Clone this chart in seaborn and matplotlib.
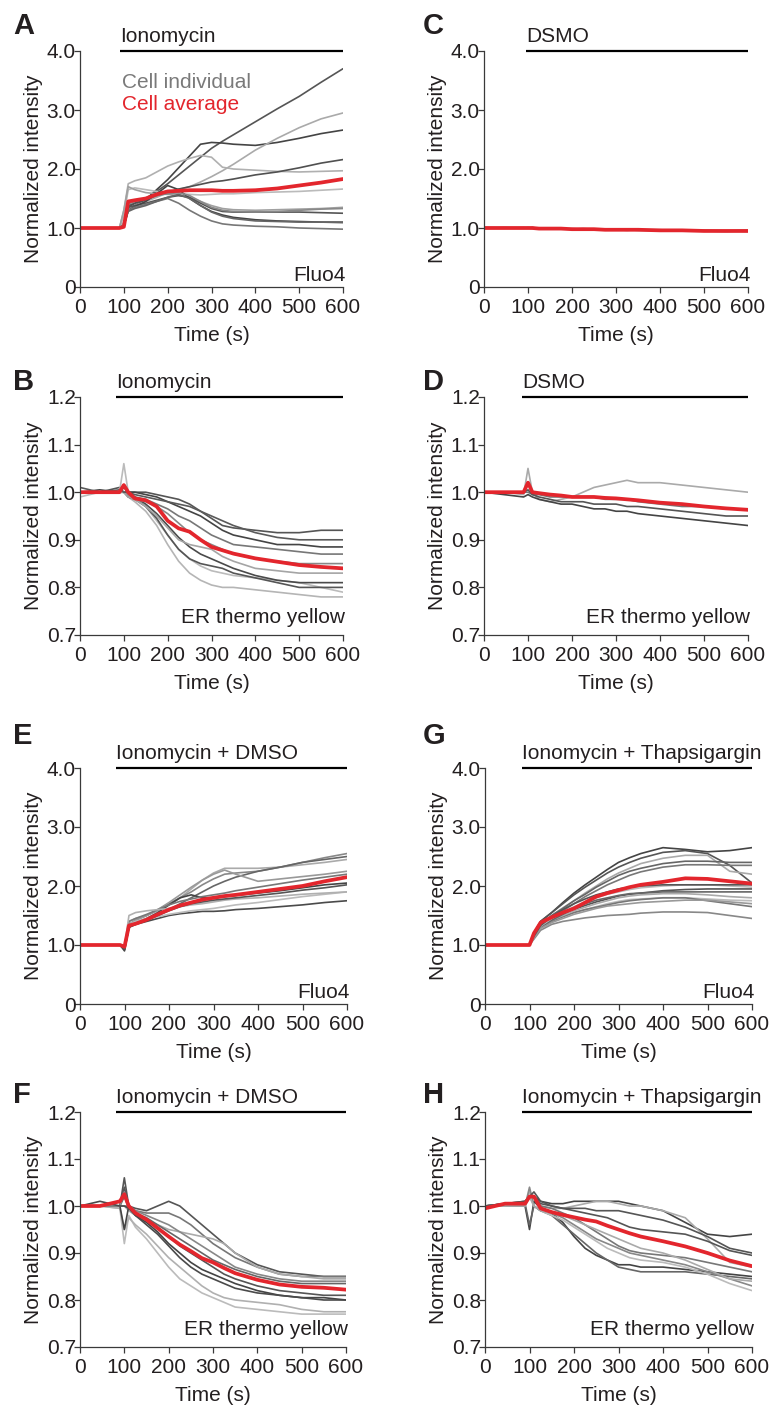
import pandas as pd
import seaborn as sns
import matplotlib.pyplot as plt

# sample times (s) shared by every trace
TIME = [0, 45, 90, 100, 110, 125, 150, 175, 200, 225, 250, 275, 300, 325, 350, 400, 450, 500, 550, 600]

# ---- A : Fluo4, ionomycin
A_cells = [
    [1.0, 1.0, 1.0, 1.02, 1.35, 1.42, 1.5, 1.62, 1.75, 1.9, 2.05, 2.2, 2.35, 2.47, 2.58, 2.8, 3.02, 3.23, 3.47, 3.70],
    [1.0, 1.0, 1.0, 1.05, 1.3, 1.38, 1.48, 1.65, 1.82, 2.02, 2.22, 2.42, 2.45, 2.44, 2.42, 2.40, 2.45, 2.52, 2.6, 2.66],
    [1.0, 1.0, 1.0, 1.1, 1.3, 1.38, 1.45, 1.52, 1.6, 1.65, 1.7, 1.78, 1.87, 1.97, 2.08, 2.32, 2.52, 2.7, 2.85, 2.95],
    [1.0, 1.0, 1.0, 1.3, 1.75, 1.8, 1.85, 1.95, 2.05, 2.12, 2.18, 2.23, 2.2, 2.03, 2.0, 1.98, 1.96, 1.95, 1.96, 1.97],
    [1.0, 1.0, 1.0, 1.05, 1.38, 1.42, 1.48, 1.55, 1.6, 1.66, 1.7, 1.74, 1.78, 1.8, 1.83, 1.9, 1.95, 2.02, 2.1, 2.16],
    [1.0, 1.0, 1.0, 1.2, 1.65, 1.68, 1.65, 1.62, 1.6, 1.58, 1.57, 1.56, 1.57, 1.58, 1.58, 1.6, 1.61, 1.62, 1.64, 1.66],
    [1.0, 1.0, 1.0, 1.3, 1.7, 1.65, 1.6, 1.58, 1.57, 1.55, 1.52, 1.45, 1.38, 1.33, 1.31, 1.3, 1.31, 1.32, 1.33, 1.35],
    [1.0, 1.0, 1.0, 1.05, 1.35, 1.38, 1.42, 1.47, 1.52, 1.55, 1.52, 1.42, 1.33, 1.28, 1.27, 1.27, 1.27, 1.27, 1.26, 1.25],
    [1.0, 1.0, 1.0, 1.04, 1.3, 1.36, 1.45, 1.58, 1.72, 1.65, 1.5, 1.38, 1.28, 1.22, 1.18, 1.14, 1.12, 1.11, 1.1, 1.1],
    [1.0, 1.0, 1.0, 1.04, 1.3, 1.35, 1.4, 1.45, 1.5, 1.42, 1.3, 1.2, 1.12, 1.07, 1.05, 1.03, 1.02, 1.0, 0.99, 0.98],
    [1.0, 1.0, 1.0, 1.04, 1.28, 1.33, 1.38, 1.45, 1.52, 1.57, 1.5, 1.38, 1.27, 1.2, 1.16, 1.12, 1.11, 1.1, 1.1, 1.09],
    [1.0, 1.0, 1.0, 1.05, 1.4, 1.45, 1.5, 1.55, 1.58, 1.6, 1.55, 1.45, 1.35, 1.3, 1.28, 1.27, 1.28, 1.3, 1.32, 1.33],
]
A_shades = ["#555555", "#444444", "#aaaaaa", "#b0b0b0", "#505050", "#bbbbbb",
            "#a0a0a0", "#555555", "#444444", "#777777", "#666666", "#888888"]
A_mean = [1.0, 1.0, 1.0, 1.02, 1.45, 1.47, 1.5, 1.57, 1.62, 1.63, 1.64, 1.64, 1.64, 1.63, 1.63, 1.64, 1.67, 1.72, 1.77, 1.83]

# ---- C : Fluo4, vehicle
C_cells = [
    [1.0, 1.01, 1.0, 1.01, 1.0, 0.99, 1.0, 0.99, 0.98, 0.99, 0.98, 0.97, 0.98, 0.97, 0.96, 0.96, 0.96, 0.95, 0.94, 0.95],
    [1.0, 1.0, 1.01, 1.0, 0.99, 1.0, 0.99, 0.98, 0.99, 0.98, 0.97, 0.98, 0.97, 0.96, 0.97, 0.96, 0.95, 0.95, 0.95, 0.94],
    [1.01, 1.0, 1.0, 1.0, 1.01, 0.99, 0.99, 0.99, 0.98, 0.98, 0.98, 0.97, 0.97, 0.97, 0.97, 0.97, 0.96, 0.96, 0.95, 0.96],
]
C_shades = ["#888888", "#999999", "#666666"]
C_mean = [1.0, 1.0, 1.0, 1.0, 1.0, 0.99, 0.99, 0.99, 0.98, 0.98, 0.98, 0.97, 0.97, 0.97, 0.97, 0.96, 0.96, 0.95, 0.95, 0.95]

# ---- B : ER thermo yellow, ionomycin
B_cells = [
    [1.0, 1.0, 1.01, 1.0, 1.0, 1.0, 1.0, 0.995, 0.99, 0.985, 0.975, 0.96, 0.945, 0.93, 0.925, 0.92, 0.915, 0.915, 0.92, 0.92],
    [1.0, 1.005, 1.0, 1.0, 1.0, 1.0, 0.995, 0.99, 0.98, 0.97, 0.96, 0.95, 0.935, 0.92, 0.91, 0.9, 0.89, 0.89, 0.885, 0.885],
    [1.0, 1.0, 1.0, 1.0, 0.995, 0.99, 0.985, 0.975, 0.965, 0.95, 0.94, 0.925, 0.91, 0.9, 0.89, 0.885, 0.88, 0.875, 0.87, 0.87],
    [0.99, 1.0, 1.0, 1.06, 1.0, 0.99, 0.97, 0.94, 0.91, 0.88, 0.86, 0.845, 0.835, 0.83, 0.825, 0.82, 0.815, 0.81, 0.8, 0.79],
    [1.0, 1.0, 1.0, 1.0, 0.99, 0.98, 0.96, 0.93, 0.89, 0.855, 0.83, 0.815, 0.805, 0.8, 0.8, 0.795, 0.79, 0.785, 0.78, 0.78],
    [1.0, 1.0, 1.0, 1.01, 1.0, 0.99, 0.975, 0.955, 0.93, 0.905, 0.885, 0.87, 0.86, 0.85, 0.84, 0.825, 0.815, 0.81, 0.81, 0.81],
    [1.0, 1.0, 1.0, 1.0, 0.99, 0.985, 0.97, 0.945, 0.91, 0.88, 0.86, 0.85, 0.845, 0.84, 0.83, 0.82, 0.81, 0.8, 0.8, 0.8],
    [1.0, 1.0, 1.0, 1.0, 0.995, 0.985, 0.98, 0.97, 0.955, 0.935, 0.915, 0.9, 0.89, 0.88, 0.87, 0.86, 0.855, 0.85, 0.85, 0.85],
    [1.0, 1.0, 1.0, 1.0, 0.99, 0.985, 0.97, 0.95, 0.925, 0.9, 0.89, 0.885, 0.88, 0.865, 0.855, 0.84, 0.835, 0.83, 0.83, 0.83],
    [1.01, 1.0, 1.005, 1.0, 1.0, 0.995, 0.99, 0.985, 0.98, 0.975, 0.97, 0.96, 0.95, 0.94, 0.93, 0.915, 0.905, 0.9, 0.9, 0.9],
]
B_shades = ["#555555", "#444444", "#777777", "#bbbbbb", "#b5b5b5", "#4a4a4a",
            "#555555", "#888888", "#a5a5a5", "#5a5a5a"]
B_mean = [1.0, 1.0, 1.0, 1.015, 1.0, 0.987, 0.983, 0.97, 0.94, 0.924, 0.917, 0.9, 0.885, 0.878, 0.871, 0.861, 0.854, 0.847, 0.843, 0.84]

# ---- D : ER thermo yellow, vehicle
D_cells = [
    [1.0, 1.0, 0.995, 1.05, 1.0, 0.985, 0.98, 0.985, 0.99, 1.0, 1.01, 1.015, 1.02, 1.025, 1.02, 1.02, 1.015, 1.01, 1.005, 1.0],
    [1.0, 0.995, 0.99, 0.995, 0.99, 0.985, 0.98, 0.975, 0.975, 0.97, 0.965, 0.965, 0.96, 0.96, 0.955, 0.95, 0.945, 0.94, 0.935, 0.93],
    [1.0, 1.0, 1.0, 1.0, 0.995, 0.995, 0.99, 0.99, 0.99, 0.99, 0.99, 0.985, 0.985, 0.985, 0.98, 0.975, 0.97, 0.97, 0.965, 0.965],
    [1.0, 1.0, 1.0, 1.005, 0.995, 0.99, 0.985, 0.98, 0.98, 0.98, 0.975, 0.975, 0.975, 0.97, 0.97, 0.965, 0.96, 0.955, 0.95, 0.95],
]
D_shades = ["#aaaaaa", "#444444", "#777777", "#555555"]
D_mean = [1.0, 1.0, 1.0, 1.02, 1.0, 0.998, 0.995, 0.993, 0.99, 0.99, 0.99, 0.988, 0.987, 0.985, 0.983, 0.978, 0.975, 0.97, 0.966, 0.963]

# ---- E : Fluo4, ionomycin + DMSO
E_cells = [
    [1.0, 1.0, 1.0, 0.95, 1.4, 1.45, 1.5, 1.58, 1.68, 1.8, 1.95, 2.1, 2.22, 2.3, 2.3, 2.3, 2.32, 2.36, 2.4, 2.45],
    [1.0, 1.0, 1.0, 0.93, 1.35, 1.42, 1.5, 1.6, 1.7, 1.8, 1.9, 2.02, 2.12, 2.2, 2.22, 2.25, 2.32, 2.4, 2.48, 2.55],
    [1.0, 1.0, 1.0, 0.95, 1.3, 1.35, 1.42, 1.5, 1.6, 1.7, 1.8, 1.9, 2.0, 2.08, 2.15, 2.25, 2.32, 2.4, 2.45, 2.5],
    [1.0, 1.0, 1.0, 0.95, 1.35, 1.42, 1.5, 1.6, 1.72, 1.85, 1.98, 2.1, 2.2, 2.27, 2.2, 2.08, 2.12, 2.16, 2.2, 2.25],
    [1.0, 1.0, 1.0, 0.9, 1.3, 1.38, 1.45, 1.55, 1.68, 1.8, 1.85, 1.8, 1.8, 1.82, 1.84, 1.88, 1.92, 1.97, 2.02, 2.05],
    [1.0, 1.0, 1.0, 0.92, 1.3, 1.35, 1.4, 1.45, 1.5, 1.53, 1.55, 1.57, 1.57, 1.58, 1.6, 1.62, 1.65, 1.68, 1.72, 1.75],
    [1.0, 1.0, 1.0, 0.95, 1.35, 1.4, 1.45, 1.48, 1.52, 1.55, 1.58, 1.6, 1.62, 1.65, 1.68, 1.72, 1.77, 1.82, 1.86, 1.9],
    [1.0, 1.0, 1.0, 0.95, 1.4, 1.45, 1.52, 1.6, 1.68, 1.74, 1.78, 1.82, 1.85, 1.88, 1.92, 1.98, 2.04, 2.1, 2.15, 2.2],
    [1.0, 1.0, 1.0, 0.97, 1.5, 1.55, 1.58, 1.6, 1.62, 1.65, 1.68, 1.7, 1.73, 1.76, 1.78, 1.8, 1.83, 1.86, 1.88, 1.9],
    [1.0, 1.0, 1.0, 0.93, 1.32, 1.37, 1.43, 1.5, 1.58, 1.65, 1.7, 1.73, 1.76, 1.78, 1.8, 1.84, 1.88, 1.93, 1.97, 2.02],
]
E_shades = ["#aaaaaa", "#888888", "#666666", "#999999", "#444444",
            "#4a4a4a", "#bbbbbb", "#777777", "#b0b0b0", "#555555"]
E_mean = [1.0, 1.0, 1.0, 0.97, 1.33, 1.36, 1.43, 1.52, 1.6, 1.67, 1.72, 1.77, 1.8, 1.83, 1.85, 1.9, 1.95, 2.0, 2.08, 2.15]

# ---- G : Fluo4, ionomycin + thapsigargin
G_cells = [
    [1.0, 1.0, 1.0, 1.0, 1.2, 1.4, 1.55, 1.72, 1.88, 2.02, 2.15, 2.28, 2.4, 2.48, 2.55, 2.65, 2.62, 2.58, 2.6, 2.65],
    [1.0, 1.0, 1.0, 1.0, 1.2, 1.4, 1.55, 1.7, 1.85, 1.98, 2.1, 2.22, 2.32, 2.4, 2.47, 2.57, 2.6, 2.55, 2.35, 2.05],
    [1.0, 1.0, 1.0, 1.0, 1.15, 1.35, 1.5, 1.63, 1.75, 1.88, 2.0, 2.12, 2.22, 2.3, 2.38, 2.47, 2.52, 2.52, 2.25, 2.2],
    [1.0, 1.0, 1.0, 1.0, 1.15, 1.35, 1.5, 1.62, 1.75, 1.86, 1.98, 2.08, 2.18, 2.25, 2.3, 2.38, 2.42, 2.42, 2.4, 2.4],
    [1.0, 1.0, 1.0, 1.0, 1.15, 1.32, 1.45, 1.58, 1.7, 1.82, 1.92, 2.02, 2.1, 2.18, 2.24, 2.32, 2.36, 2.36, 2.35, 2.35],
    [1.0, 1.0, 1.0, 1.0, 1.15, 1.3, 1.4, 1.48, 1.55, 1.6, 1.65, 1.7, 1.74, 1.77, 1.78, 1.8, 1.8, 1.78, 1.76, 1.75],
    [1.0, 1.0, 1.0, 1.0, 1.1, 1.25, 1.35, 1.4, 1.43, 1.46, 1.48, 1.5, 1.51, 1.52, 1.54, 1.56, 1.56, 1.55, 1.5, 1.45],
    [1.0, 1.0, 1.0, 1.0, 1.15, 1.3, 1.42, 1.52, 1.6, 1.67, 1.73, 1.78, 1.83, 1.86, 1.88, 1.92, 1.94, 1.95, 1.95, 1.95],
    [1.0, 1.0, 1.0, 1.0, 1.15, 1.3, 1.4, 1.48, 1.55, 1.6, 1.64, 1.68, 1.72, 1.75, 1.77, 1.8, 1.8, 1.75, 1.7, 1.65],
    [1.0, 1.0, 1.0, 1.0, 1.15, 1.3, 1.42, 1.5, 1.58, 1.64, 1.7, 1.75, 1.8, 1.83, 1.85, 1.87, 1.87, 1.85, 1.82, 1.8],
    [1.0, 1.0, 1.0, 1.0, 1.15, 1.3, 1.42, 1.52, 1.62, 1.7, 1.76, 1.8, 1.84, 1.87, 1.88, 1.9, 1.9, 1.9, 1.9, 1.9],
    [1.0, 1.0, 1.0, 1.0, 1.15, 1.32, 1.45, 1.55, 1.65, 1.72, 1.8, 1.86, 1.9, 1.94, 1.97, 2.0, 2.02, 2.02, 2.0, 1.98],
    [1.0, 1.0, 1.0, 1.0, 1.12, 1.28, 1.38, 1.45, 1.52, 1.57, 1.62, 1.66, 1.68, 1.7, 1.72, 1.74, 1.76, 1.76, 1.73, 1.7],
    [1.0, 1.0, 1.0, 1.0, 1.15, 1.33, 1.48, 1.6, 1.7, 1.78, 1.85, 1.9, 1.95, 1.98, 2.0, 2.02, 2.02, 2.02, 2.02, 2.02],
]
G_shades = ["#444444", "#555555", "#aaaaaa", "#666666", "#777777", "#bbbbbb", "#888888",
            "#555555", "#777777", "#aaaaaa", "#666666", "#bbbbbb", "#999999", "#555555"]
G_mean = [1.0, 1.0, 1.0, 1.0, 1.2, 1.38, 1.47, 1.55, 1.62, 1.72, 1.82, 1.88, 1.93, 1.98, 2.02, 2.07, 2.13, 2.12, 2.08, 2.04]

# ---- F : ER thermo yellow, ionomycin + DMSO
F_cells = [
    [1.0, 1.0, 1.0, 1.04, 1.0, 0.995, 0.99, 1.0, 1.01, 1.0, 0.98, 0.96, 0.94, 0.92, 0.9, 0.875, 0.86, 0.855, 0.85, 0.85],
    [1.0, 1.0, 1.0, 1.0, 1.0, 0.99, 0.985, 0.985, 0.985, 0.975, 0.96, 0.94, 0.92, 0.905, 0.89, 0.87, 0.855, 0.85, 0.85, 0.85],
    [1.0, 1.0, 1.0, 1.0, 0.99, 0.98, 0.97, 0.96, 0.95, 0.945, 0.94, 0.935, 0.93, 0.92, 0.9, 0.87, 0.855, 0.85, 0.845, 0.845],
    [1.0, 1.0, 0.995, 0.92, 0.98, 0.955, 0.93, 0.9, 0.87, 0.845, 0.83, 0.815, 0.805, 0.795, 0.785, 0.78, 0.775, 0.77, 0.77, 0.77],
    [1.0, 1.0, 0.995, 0.95, 0.975, 0.96, 0.94, 0.915, 0.89, 0.87, 0.85, 0.83, 0.815, 0.805, 0.8, 0.795, 0.79, 0.78, 0.775, 0.775],
    [1.0, 1.0, 1.0, 0.95, 1.0, 0.98, 0.965, 0.945, 0.92, 0.9, 0.88, 0.865, 0.855, 0.845, 0.835, 0.82, 0.81, 0.805, 0.805, 0.8],
    [1.0, 1.0, 1.0, 1.06, 1.0, 0.985, 0.97, 0.955, 0.935, 0.915, 0.9, 0.885, 0.87, 0.855, 0.845, 0.83, 0.82, 0.815, 0.81, 0.81],
    [1.0, 1.0, 1.0, 1.02, 0.995, 0.985, 0.975, 0.96, 0.945, 0.93, 0.915, 0.9, 0.885, 0.875, 0.865, 0.85, 0.84, 0.835, 0.835, 0.835],
    [1.0, 1.0, 1.0, 1.03, 1.0, 0.99, 0.98, 0.97, 0.96, 0.945, 0.93, 0.915, 0.9, 0.885, 0.87, 0.855, 0.845, 0.84, 0.84, 0.84],
    [1.0, 1.01, 1.0, 1.0, 0.995, 0.98, 0.96, 0.94, 0.915, 0.89, 0.87, 0.855, 0.845, 0.835, 0.825, 0.815, 0.81, 0.805, 0.8, 0.8],
]
F_shades = ["#555555", "#777777", "#aaaaaa", "#bbbbbb", "#b0b0b0",
            "#444444", "#555555", "#666666", "#888888", "#4a4a4a"]
F_mean = [1.0, 1.0, 1.01, 1.025, 1.0, 0.985, 0.971, 0.953, 0.935, 0.918, 0.904, 0.889, 0.88, 0.868, 0.857, 0.843, 0.833, 0.828, 0.826, 0.822]

# ---- H : ER thermo yellow, ionomycin + thapsigargin
H_cells = [
    [1.0, 1.005, 1.01, 1.02, 1.02, 1.01, 1.005, 1.005, 1.01, 1.01, 1.01, 1.01, 1.01, 1.005, 1.0, 0.99, 0.965, 0.94, 0.935, 0.94],
    [1.0, 1.0, 1.0, 1.03, 1.02, 1.0, 0.995, 0.995, 1.0, 1.005, 1.01, 1.01, 1.005, 1.0, 1.0, 0.99, 0.975, 0.93, 0.88, 0.87],
    [1.0, 1.005, 1.01, 1.02, 1.02, 1.005, 1.0, 0.995, 0.99, 0.985, 0.98, 0.975, 0.965, 0.955, 0.95, 0.945, 0.94, 0.925, 0.905, 0.895],
    [1.0, 1.0, 1.0, 0.95, 1.01, 0.995, 0.985, 0.965, 0.935, 0.91, 0.895, 0.885, 0.875, 0.875, 0.87, 0.87, 0.865, 0.86, 0.855, 0.85],
    [1.0, 1.0, 1.005, 0.96, 1.0, 0.99, 0.98, 0.96, 0.94, 0.92, 0.9, 0.885, 0.87, 0.865, 0.86, 0.86, 0.86, 0.855, 0.85, 0.845],
    [1.0, 1.0, 1.005, 1.02, 1.0, 0.99, 0.98, 0.97, 0.955, 0.94, 0.925, 0.91, 0.9, 0.89, 0.885, 0.88, 0.87, 0.855, 0.835, 0.82],
    [1.0, 1.0, 1.0, 1.04, 1.0, 0.99, 0.985, 0.975, 0.96, 0.945, 0.93, 0.92, 0.91, 0.9, 0.895, 0.885, 0.875, 0.86, 0.845, 0.83],
    [1.0, 1.005, 1.005, 1.02, 1.02, 1.0, 0.995, 0.985, 0.975, 0.96, 0.945, 0.93, 0.915, 0.905, 0.9, 0.895, 0.89, 0.88, 0.87, 0.86],
    [1.0, 1.0, 1.0, 1.02, 1.0, 0.99, 0.985, 0.98, 0.97, 0.96, 0.95, 0.94, 0.93, 0.92, 0.91, 0.9, 0.885, 0.865, 0.845, 0.84],
    [1.0, 1.005, 1.005, 1.02, 1.03, 1.01, 1.0, 0.995, 0.995, 0.995, 0.99, 0.99, 0.99, 0.985, 0.98, 0.97, 0.955, 0.935, 0.91, 0.9],
]
H_shades = ["#444444", "#aaaaaa", "#555555", "#444444", "#666666",
            "#bbbbbb", "#888888", "#777777", "#aaaaaa", "#555555"]
H_mean = [0.995, 1.005, 1.005, 1.02, 1.02, 0.995, 0.987, 0.981, 0.976, 0.971, 0.967, 0.958, 0.95, 0.942, 0.935, 0.925, 0.914, 0.9, 0.884, 0.872]

# panel text
LETTERS = ["A", "C", "B", "D", "E", "G", "F", "H"]
DRUGS = ["Ionomycin", "DSMO", "Ionomycin", "DSMO",
         "Ionomycin + DMSO", "Ionomycin + Thapsigargin", "Ionomycin + DMSO", "Ionomycin + Thapsigargin"]
DRUG_START = [91, 95, 82, 86, 81, 83, 81, 83]
PROBES = ["Fluo4", "Fluo4", "ER thermo yellow", "ER thermo yellow",
          "Fluo4", "Fluo4", "ER thermo yellow", "ER thermo yellow"]
FLUO_TICKS = [0, 1, 2, 3, 4]
FLUO_LABELS = ["0", "1.0", "2.0", "3.0", "4.0"]
ER_TICKS = [0.7, 0.8, 0.9, 1.0, 1.1, 1.2]
ER_LABELS = ["0.7", "0.8", "0.9", "1.0", "1.1", "1.2"]
TIME_TICKS = [0, 100, 200, 300, 400, 500, 600]

PANELS = [
    (A_cells, A_shades, A_mean), (C_cells, C_shades, C_mean),
    (B_cells, B_shades, B_mean), (D_cells, D_shades, D_mean),
    (E_cells, E_shades, E_mean), (G_cells, G_shades, G_mean),
    (F_cells, F_shades, F_mean), (H_cells, H_shades, H_mean),
]

sns.set_theme(style="ticks")
plt.rcParams["font.family"] = ["Liberation Sans", "DejaVu Sans"]
INK = "#231f20"
RED = "#e3262d"
FS = 15

W, H = 770, 1405
# axes boxes in pixels: left, top, right, bottom
BOXES = [(80, 51, 343, 287), (484, 51, 748, 287),
         (80, 397, 343, 635), (484, 397, 748, 635),
         (80, 768, 347, 1004), (485, 768, 752, 1004),
         (80, 1112, 346, 1347), (485, 1112, 752, 1347)]
LETTER_POS = [(13, 34), (423, 34), (13, 390), (423, 390),
              (13, 744), (423, 744), (13, 1103), (423, 1103)]

fig = plt.figure(figsize=(W / 100, H / 100), dpi=100)

for i, (cells, shades, mean) in enumerate(PANELS):
    l, t, r, b = BOXES[i]
    ax = fig.add_axes([l / W, 1 - b / H, (r - l) / W, (b - t) / H])
    fluo = PROBES[i] == "Fluo4"

    rows = []
    for k, vals in enumerate(cells):
        for tt, v in zip(TIME, vals):
            rows.append({"time": tt, "value": v, "cell": f"c{k}"})
    df = pd.DataFrame(rows)
    pal = {f"c{k}": s for k, s in enumerate(shades)}
    sns.lineplot(data=df, x="time", y="value", hue="cell", units="cell", estimator=None,
                 palette=pal, legend=False, lw=1.2, ax=ax)
    sns.lineplot(x=TIME, y=mean, color=RED, lw=2.7, ax=ax)

    ax.set_xlim(0, 600)
    ax.set_xticks(TIME_TICKS)
    if fluo:
        ymin, ymax = 0, 4
        ax.set_yticks(FLUO_TICKS)
        ax.set_yticklabels(FLUO_LABELS)
        probe_y = 0.2
    else:
        ymin, ymax = 0.7, 1.2
        ax.set_yticks(ER_TICKS)
        ax.set_yticklabels(ER_LABELS)
        probe_y = 0.737
    ax.set_ylim(ymin, ymax)

    sns.despine(ax=ax)
    for sp in ["left", "bottom"]:
        ax.spines[sp].set_color("#3a3a3a")
        ax.spines[sp].set_linewidth(0.9)
    ax.tick_params(length=4, width=0.9, color="#3a3a3a", labelsize=FS, labelcolor=INK)
    ax.tick_params(axis="x", pad=4)
    ax.tick_params(axis="y", pad=-1)

    pw, ph = r - l, b - t
    ax.set_ylabel("Normalized intensity", fontsize=FS, color=INK)
    ax.yaxis.set_label_coords(-37 / pw, 0.5)
    ax.set_xlabel("Time (s)", fontsize=FS, color=INK)
    ax.xaxis.set_label_coords(0.5, -39 / ph)

    # treatment bar
    ax.plot([DRUG_START[i], 600], [ymax, ymax], color="black", lw=1.6,
            clip_on=False, solid_capstyle="butt")
    ax.annotate(DRUGS[i], (DRUG_START[i], ymax), xytext=(0, 3.5), textcoords="offset points",
                ha="left", va="bottom", fontsize=FS, color=INK, annotation_clip=False)
    ax.text(605, probe_y, PROBES[i], ha="right", va="center", fontsize=FS, color=INK)

    if i == 0:
        ax.text(96, 3.47, "Cell individual", color="#7a7a7a", fontsize=FS, va="center")
        ax.text(96, 3.1, "Cell average", color=RED, fontsize=FS, va="center")

    lx, ly = LETTER_POS[i]
    fig.text(lx / W, 1 - ly / H, LETTERS[i], fontsize=21, fontweight="bold",
             color=INK, ha="left", va="baseline")

fig.savefig("out.png", dpi=100)
